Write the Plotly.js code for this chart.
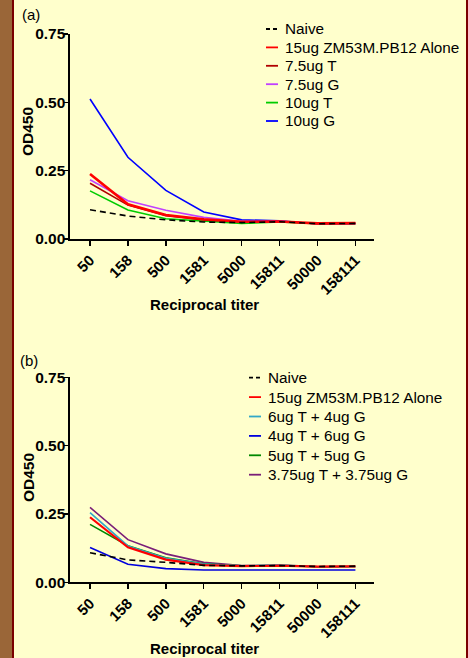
<!DOCTYPE html>
<html>
<head>
<meta charset="utf-8">
<script src="https://cdn.plot.ly/plotly-3.0.1.min.js"></script>
<style>
html,body{margin:0;padding:0;background:#FFFFCC;}
#chart{width:468px;height:658px;}
</style>
</head>
<body>
<div id="chart"></div>
<script>
// Categories (reciprocal titer)
const titers = ['50','158','500','1581','5000','15811','50000','158111'];
const yTicks = [0, 0.25, 0.5, 0.75];
const yTickText = ['0.00','0.25','0.50','0.75'];

// Panel (a)
const namesA = ['Naive','15ug ZM53M.PB12 Alone','7.5ug T','7.5ug G','10ug T','10ug G'];
const colorsA = ['#000000','#FF0000','#B00000','#C040FF','#00CC00','#0000FF'];
const naiveA = [0.107, 0.084, 0.070, 0.062, 0.060, 0.063, 0.056, 0.057];
const aloneA = [0.238, 0.127, 0.088, 0.072, 0.063, 0.064, 0.057, 0.058];
const t75A   = [0.204, 0.124, 0.085, 0.070, 0.062, 0.064, 0.056, 0.057];
const g75A   = [0.217, 0.140, 0.105, 0.079, 0.065, 0.065, 0.056, 0.057];
const t10A   = [0.176, 0.106, 0.074, 0.065, 0.057, 0.062, 0.056, 0.057];
const g10A   = [0.512, 0.299, 0.178, 0.099, 0.070, 0.067, 0.055, 0.056];

// Panel (b)
const namesB = ['Naive','15ug ZM53M.PB12 Alone','6ug T + 4ug G','4ug T + 6ug G','5ug T + 5ug G','3.75ug T + 3.75ug G'];
const colorsB = ['#000000','#FF0000','#33A8C8','#0000DD','#008800','#7A1F78'];
const naiveB = [0.108, 0.082, 0.073, 0.062, 0.060, 0.061, 0.058, 0.059];
const aloneB = [0.238, 0.128, 0.083, 0.063, 0.059, 0.061, 0.057, 0.058];
const t6g4B  = [0.255, 0.133, 0.088, 0.067, 0.060, 0.064, 0.057, 0.058];
const t4g6B  = [0.127, 0.066, 0.050, 0.045, 0.045, 0.046, 0.045, 0.045];
const t5g5B  = [0.212, 0.134, 0.090, 0.068, 0.060, 0.062, 0.057, 0.058];
const t375B  = [0.274, 0.156, 0.104, 0.073, 0.061, 0.062, 0.057, 0.058];

const FONT = 'Arial, "Liberation Sans", Helvetica, sans-serif';
const W = 468, H = 658;
const px = v => v / W;
const py = v => 1 - v / H;

function mk(y, i, names, colors, xa, ya, widths) {
  const dashed = i === 0;
  return {
    x: titers, y: y, type: 'scatter', mode: 'lines',
    name: names[i], xaxis: xa, yaxis: ya, showlegend: false,
    line: {color: colors[i], width: dashed ? 1.6 : widths[i], dash: dashed ? '6px,4px' : 'solid'},
    hoverinfo: 'skip'
  };
}
const wA = [1.6, 2.6, 1.6, 1.6, 1.6, 1.6];
const wB = [1.6, 2.2, 1.6, 1.6, 1.6, 1.6];
const seriesA = [naiveA, aloneA, t75A, g75A, t10A, g10A];
const seriesB = [naiveB, aloneB, t6g4B, t4g6B, t5g5B, t375B];
const traces = [];
// draw order: coloured series first, naive on top
[5,4,3,2,1,0].forEach(i => traces.push(mk(seriesA[i], i, namesA, colorsA, 'x', 'y', wA)));
[5,4,3,2,1,0].forEach(i => traces.push(mk(seriesB[i], i, namesB, colorsB, 'x2', 'y2', wB)));

const xCommon = {
  type: 'category', range: [-0.528, 7.49], showgrid: false, zeroline: false,
  showline: true, linecolor: '#000', linewidth: 1.6,
  ticks: 'outside', ticklen: 5, tickwidth: 1.4, tickcolor: '#000',
  tickangle: -45, tickfont: {family: FONT, size: 15, color: '#000', weight: 'bold'},
  fixedrange: true
};
const yCommon = {
  range: [0, 0.75], showgrid: false, zeroline: false,
  showline: true, linecolor: '#000', linewidth: 1.6,
  ticks: 'outside', ticklen: 4, tickwidth: 1.4, tickcolor: '#000',
  ticklabelstandoff: -4,
  tickmode: 'array', tickvals: yTicks, ticktext: yTickText,
  tickfont: {family: FONT, size: 15.5, color: '#000', weight: 'bold'},
  fixedrange: true
};

// Legends built as swatch lines + text labels
const shapes = [
  {type: 'rect', xref: 'paper', yref: 'paper', x0: 0, x1: px(12), y0: 0, y1: 1, fillcolor: '#9A6638', line: {width: 0}, layer: 'below'},
  {type: 'rect', xref: 'paper', yref: 'paper', x0: px(12), x1: px(14), y0: 0, y1: 1, fillcolor: '#7A0000', line: {width: 0}, layer: 'below'},
  {type: 'rect', xref: 'paper', yref: 'paper', x0: px(466), x1: 1, y0: 0, y1: 1, fillcolor: '#7A0000', line: {width: 0}, layer: 'below'}
];
const annotations = [
  {text: '(a)', xref: 'paper', yref: 'paper', x: px(20), y: py(15), xanchor: 'left', yanchor: 'middle', showarrow: false, font: {size: 15}},
  {text: '(b)', xref: 'paper', yref: 'paper', x: px(18), y: py(360), xanchor: 'left', yanchor: 'middle', showarrow: false, font: {size: 15}},
  {text: '<b>OD450</b>', xref: 'paper', yref: 'paper', x: px(28), y: py(132), textangle: -90, xanchor: 'center', yanchor: 'middle', showarrow: false, font: {size: 15.5}},
  {text: '<b>OD450</b>', xref: 'paper', yref: 'paper', x: px(28), y: py(478), textangle: -90, xanchor: 'center', yanchor: 'middle', showarrow: false, font: {size: 15.5}},
  {text: '<b>Reciprocal titer</b>', xref: 'paper', yref: 'paper', x: px(204), y: py(304), xanchor: 'center', yanchor: 'middle', showarrow: false, font: {size: 15}},
  {text: '<b>Reciprocal titer</b>', xref: 'paper', yref: 'paper', x: px(204), y: py(648), xanchor: 'center', yanchor: 'middle', showarrow: false, font: {size: 15}}
];
function addLegend(names, colors, x0, y0, dy) {
  names.forEach((n, i) => {
    const yc = y0 + dy * i;
    shapes.push({type: 'line', xref: 'paper', yref: 'paper',
      x0: px(x0), x1: px(x0 + 12), y0: py(yc), y1: py(yc),
      line: {color: colors[i], width: 1.8, dash: i === 0 ? '4px,3px' : 'solid'}});
    annotations.push({text: n, xref: 'paper', yref: 'paper', x: px(x0 + 17), y: py(yc),
      xanchor: 'left', yanchor: 'middle', showarrow: false,
      font: {family: FONT, size: 15.3, color: '#000'}});
  });
}
addLegend(namesA, colorsA, 266, 29, 18.4);
addLegend(namesB, colorsB, 249, 377.7, 19.4);

const xDom = [px(70), px(374)];
const layout = {
  width: W, height: H,
  margin: {l: 0, r: 0, t: 0, b: 0},
  paper_bgcolor: '#FFFFCC', plot_bgcolor: 'rgba(0,0,0,0)',
  font: {family: FONT, size: 15, color: '#000'},
  showlegend: false,
  xaxis: Object.assign({}, xCommon, {domain: xDom, anchor: 'y'}),
  yaxis: Object.assign({}, yCommon, {domain: [py(239), py(34)], anchor: 'x'}),
  xaxis2: Object.assign({}, xCommon, {domain: xDom, anchor: 'y2'}),
  yaxis2: Object.assign({}, yCommon, {domain: [py(582.3), py(377.3)], anchor: 'x2'}),
  shapes: shapes,
  annotations: annotations
};

Plotly.newPlot('chart', traces, layout, {staticPlot: true, displayModeBar: false});
</script>
</body>
</html>
